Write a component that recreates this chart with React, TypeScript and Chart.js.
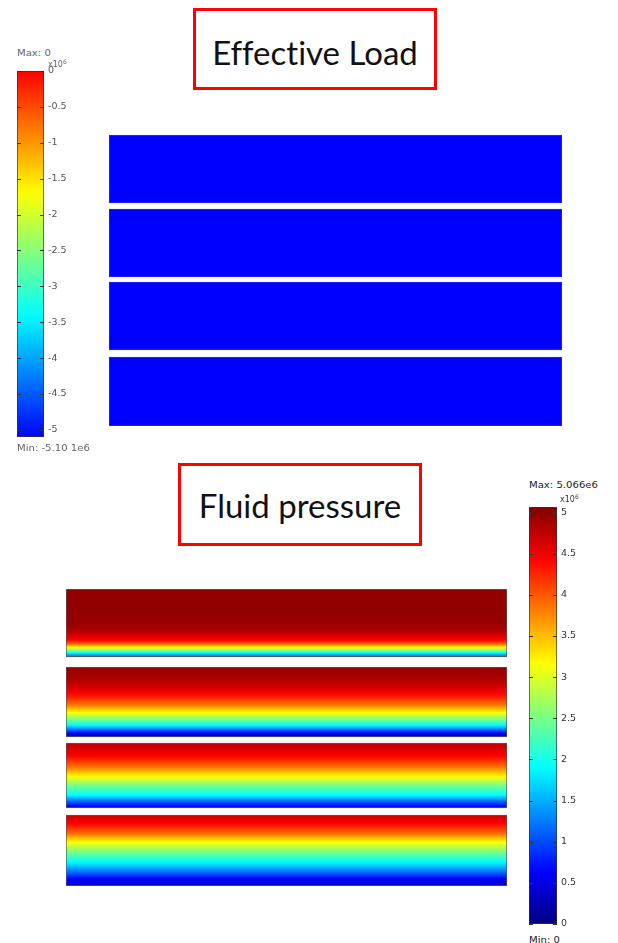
import React, { useEffect, useRef } from 'react';
import { Chart, registerables } from 'chart.js';

Chart.register(...registerables);

// ---------- data ----------
const layerNames = ['Layer 1', 'Layer 2', 'Layer 3', 'Layer 4'];

// Effective load panel (values ×1e6)
const loadLayerTop = [0, 7.4, 14.7, 22.2];
const loadLayerBottom = [6.8, 14.2, 21.5, 29.1];
const effectiveLoad = [-5.1, -5.1, -5.1, -5.1];
const loadMin = -5.1;
const loadMax = 0;
const loadTickStep = 0.5;

// Fluid pressure panel (values ×1e6)
const pressureLayerTop = [0, 7.8, 15.4, 22.6];
const pressureLayerBottom = [6.8, 14.8, 21.9, 29.7];
const pressureMin = 0;
const pressureMax = 5.066;
const pressureTickStep = 0.5;

// pressure profiles: relative depth inside each layer (0 = top, 1 = bottom)
const layer1Depth = [0, 0.3, 0.5, 0.6, 0.7, 0.75, 0.8, 0.85, 0.9, 0.95, 1];
const layer1Pressure = [4.98, 4.97, 4.95, 4.85, 4.6, 4.43, 4.0, 3.3, 2.6, 1.7, 1.1];
const layer2Depth = [0, 0.1, 0.2, 0.3, 0.38, 0.45, 0.55, 0.65, 0.75, 0.83, 0.94, 1];
const layer2Pressure = [4.97, 4.9, 4.8, 4.62, 4.43, 4.2, 3.8, 3.17, 2.5, 1.9, 0.7, 0.35];
const layer3Depth = [0, 0.1, 0.2, 0.36, 0.52, 0.65, 0.8, 0.93, 1];
const layer3Pressure = [4.75, 4.6, 4.43, 3.9, 3.17, 2.5, 1.9, 0.9, 0.55];
const layer4Depth = [0, 0.12, 0.26, 0.38, 0.52, 0.66, 0.8, 0.9, 1];
const layer4Pressure = [4.7, 4.43, 3.9, 3.17, 2.5, 1.9, 1.2, 0.63, 0.3];

const pressureProfiles = [
  [layer1Depth, layer1Pressure],
  [layer2Depth, layer2Pressure],
  [layer3Depth, layer3Pressure],
  [layer4Depth, layer4Pressure],
];

// ---------- colour maps ----------
const jetStops: [number, number[]][] = [
  [0, [0, 0, 128]],
  [0.125, [0, 0, 255]],
  [0.375, [0, 255, 255]],
  [0.625, [255, 255, 0]],
  [0.875, [255, 0, 0]],
  [1, [128, 0, 0]],
];

function jet(t: number): string {
  const x = Math.max(0, Math.min(1, t));
  for (let i = 1; i < jetStops.length; i++) {
    const [t1, c1] = jetStops[i];
    const [t0, c0] = jetStops[i - 1];
    if (x <= t1) {
      const f = (x - t0) / (t1 - t0);
      const c = c0.map((v, k) => Math.round(v + (c1[k] - v) * f));
      return `rgb(${c[0]},${c[1]},${c[2]})`;
    }
  }
  return 'rgb(128,0,0)';
}

// rainbow = jet without its dark ends
const rainbow = (t: number) => jet(0.125 + 0.75 * Math.max(0, Math.min(1, t)));
const loadColor = (v: number) => rainbow((v - loadMin) / (loadMax - loadMin));
const pressureColor = (v: number) => jet((v - pressureMin) / (pressureMax - pressureMin));

function interp(xs: number[], ys: number[], x: number) {
  for (let i = 1; i < xs.length; i++) {
    if (x <= xs[i]) {
      const f = (x - xs[i - 1]) / (xs[i] - xs[i - 1]);
      return ys[i - 1] + (ys[i] - ys[i - 1]) * f;
    }
  }
  return ys[ys.length - 1];
}

// ---------- chart helpers ----------
const tickFormat = (v: any) => String(Math.round(Number(v) * 10) / 10);

const colorbarTicks = {
  id: 'colorbarTicks',
  afterDatasetsDraw(chart: any) {
    const y = chart.scales.y;
    const { left, right } = chart.chartArea;
    const c = chart.ctx;
    c.save();
    c.strokeStyle = '#333';
    c.lineWidth = 1;
    for (const t of y.ticks) {
      const py = Math.round(y.getPixelForValue(t.value)) + 0.5;
      c.beginPath();
      c.moveTo(left, py);
      c.lineTo(left + 4, py);
      c.moveTo(right - 4, py);
      c.lineTo(right, py);
      c.stroke();
    }
    c.restore();
  },
};

function colorbarConfig(min: number, max: number, step: number, map: (t: number) => string, labelColor: string) {
  return {
    type: 'bar',
    data: {
      labels: [''],
      datasets: [
        {
          label: 'colorbar',
          data: [[min, max]],
          backgroundColor: (ctx: any) => {
            const chart = ctx.chart;
            if (!chart.chartArea) return 'transparent';
            const y = chart.scales.y;
            const g = chart.ctx.createLinearGradient(0, y.getPixelForValue(min), 0, y.getPixelForValue(max));
            const n = 40;
            for (let i = 0; i <= n; i++) g.addColorStop(i / n, map(i / n));
            return g;
          },
          borderColor: '#333',
          borderWidth: 1,
          borderSkipped: false,
          barPercentage: 1,
          categoryPercentage: 1,
        },
      ],
    },
    options: {
      responsive: false,
      animation: false,
      layout: { padding: { top: 10, bottom: 10, left: 0, right: 0 } },
      plugins: { legend: { display: false }, tooltip: { enabled: false } },
      scales: {
        x: { display: false },
        y: {
          position: 'right',
          min,
          max,
          grid: { display: false, drawTicks: false },
          border: { display: false },
          ticks: {
            stepSize: step,
            includeBounds: false,
            autoSkip: false,
            padding: 4,
            color: labelColor,
            font: { family: '"DejaVu Sans"', size: 9.5 },
            callback: tickFormat,
          },
          afterFit: (s: any) => {
            s.width = 40;
          },
        },
      },
    },
    plugins: [colorbarTicks],
  };
}

function loadLayersConfig() {
  return {
    type: 'bar',
    data: {
      labels: [''],
      datasets: layerNames.map((name, i) => ({
        label: name,
        data: [[loadLayerTop[i], loadLayerBottom[i]]],
        backgroundColor: loadColor(effectiveLoad[i]),
        borderColor: 'rgba(40,40,255,1)',
        borderWidth: 1,
        borderSkipped: false,
        grouped: false,
        barPercentage: 1,
        categoryPercentage: 1,
      })),
    },
    options: {
      responsive: false,
      animation: false,
      layout: { padding: 0 },
      plugins: { legend: { display: false }, tooltip: { enabled: false } },
      scales: {
        x: { display: false },
        y: { display: false, reverse: true, min: 0, max: loadLayerBottom[3] },
      },
    },
  };
}

function pressureLayersConfig() {
  return {
    type: 'bar',
    data: {
      labels: [''],
      datasets: layerNames.map((name, i) => ({
        label: name,
        data: [[pressureLayerTop[i], pressureLayerBottom[i]]],
        backgroundColor: (ctx: any) => {
          const chart = ctx.chart;
          if (!chart.chartArea) return 'transparent';
          const y = chart.scales.y;
          const y0 = y.getPixelForValue(pressureLayerTop[i]);
          const y1 = y.getPixelForValue(pressureLayerBottom[i]);
          const g = chart.ctx.createLinearGradient(0, y0, 0, y1);
          const [depth, pressure] = pressureProfiles[i];
          const n = 60;
          for (let k = 0; k <= n; k++) {
            const f = k / n;
            g.addColorStop(f, pressureColor(interp(depth, pressure, f)));
          }
          return g;
        },
        borderColor: 'rgba(60,60,60,0.85)',
        borderWidth: 1,
        borderSkipped: false,
        grouped: false,
        barPercentage: 1,
        categoryPercentage: 1,
      })),
    },
    options: {
      responsive: false,
      animation: false,
      layout: { padding: 0 },
      plugins: { legend: { display: false }, tooltip: { enabled: false } },
      scales: {
        x: { display: false },
        y: { display: false, reverse: true, min: 0, max: pressureLayerBottom[3] },
      },
    },
  };
}

function ChartCanvas({ left, top, width, height, make }: any) {
  const ref = useRef<HTMLCanvasElement | null>(null);
  useEffect(() => {
    const chart = new Chart(ref.current as any, make() as any);
    return () => chart.destroy();
  }, []);
  return (
    <canvas
      ref={ref}
      width={width}
      height={height}
      style={{ position: 'absolute', left, top, width, height }}
    />
  );
}

function Small({ left, top, color, children }: any) {
  return (
    <div
      style={{
        position: 'absolute',
        left,
        top,
        font: '9px "DejaVu Sans"',
        lineHeight: '12px',
        color,
        whiteSpace: 'nowrap',
        transform: 'scaleX(1.12)',
        transformOrigin: 'left center',
      }}
    >
      {children}
    </div>
  );
}

function Exp({ left, top, color }: any) {
  return (
    <div
      style={{
        position: 'absolute',
        left,
        top,
        font: '8px "DejaVu Sans"',
        lineHeight: '10px',
        color,
        whiteSpace: 'nowrap',
      }}
    >
      x10
      <span style={{ fontSize: 6, position: 'relative', top: -3 }}>6</span>
    </div>
  );
}

function TitleBox({ left, top, width, height, text, textTop }: any) {
  return (
    <>
      <div
        style={{
          position: 'absolute',
          left,
          top,
          width,
          height,
          boxSizing: 'border-box',
          border: '3px solid #f00',
        }}
      />
      <div
        style={{
          position: 'absolute',
          left,
          top: textTop,
          width,
          textAlign: 'center',
          font: '33px Lato',
          lineHeight: '33px',
          fontVariantLigatures: 'none',
          fontFeatureSettings: '"liga" 0, "clig" 0',
          color: '#111',
          whiteSpace: 'nowrap',
        }}
      >
        {text}
      </div>
    </>
  );
}

export default function App() {
  return (
    <div
      style={{
        position: 'absolute',
        left: 0,
        top: 0,
        width: 618,
        height: 943,
        background: '#fff',
        overflow: 'hidden',
      }}
    >
      <TitleBox left={193} top={8} width={244} height={82} text="Effective Load" textTop={36} />
      <TitleBox left={178} top={463} width={244} height={83} text="Fluid pressure" textTop={489} />

      <ChartCanvas left={17} top={61} width={67} height={386} make={() => colorbarConfig(loadMin, loadMax, loadTickStep, rainbow, '#555')} />
      <ChartCanvas left={109} top={135} width={453} height={291} make={loadLayersConfig} />

      <ChartCanvas left={529} top={497} width={68} height={437} make={() => colorbarConfig(pressureMin, pressureMax, pressureTickStep, jet, '#333')} />
      <ChartCanvas left={66} top={589} width={441} height={297} make={pressureLayersConfig} />

      <Small left={17} top={47} color="#666">Max: 0</Small>
      <Exp left={48} top={60} color="#666" />
      <Small left={17} top={442} color="#666">Min: -5.10 1e6</Small>

      <Small left={529} top={479} color="#222">Max: 5.066e6</Small>
      <Exp left={560} top={495} color="#333" />
      <Small left={529} top={934} color="#222">Min: 0</Small>
    </div>
  );
}
